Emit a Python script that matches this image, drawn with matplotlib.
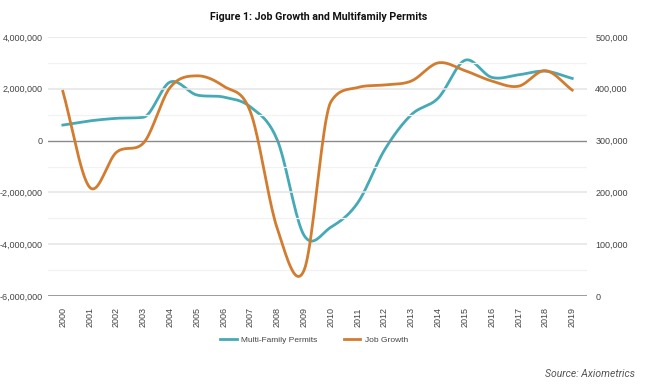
import matplotlib.pyplot as plt
import matplotlib.ticker as mticker
import numpy as np

years = list(range(2000, 2020))
job_growth = [1.9e6, -1.8e6, -0.45e6, -0.1e6, 2.05e6, 2.5e6, 2.1e6, 1.1e6, -3.4e6, -5.0e6,
              1.5e6, 2.05e6, 2.15e6, 2.3e6, 3.0e6, 2.7e6, 2.3e6, 2.1e6, 2.7e6, 1.95e6]
mf_permits = [330e3, 338e3, 343e3, 345e3, 413e3, 388e3, 384e3, 365e3, 301e3, 117e3,
              133e3, 180e3, 282e3, 350e3, 382e3, 455e3, 422e3, 427e3, 434e3, 420e3]

TEAL = '#45aab6'
ORANGE = '#d27c30'


def smooth(x, y, n=20):
    # cubic hermite curve through the yearly points, tangents limited between
    # points that keep going the same way (no bumps after steep climbs)
    x = np.asarray(x, float)
    y = np.asarray(y, float)
    d = np.diff(y) / np.diff(x)
    m = np.zeros_like(y)
    m[0], m[-1] = d[0], d[-1]
    for i in range(1, len(y) - 1):
        m[i] = (d[i - 1] + d[i]) / 2
        if d[i - 1] * d[i] > 0:
            lim = 3 * min(abs(d[i - 1]), abs(d[i]))
            m[i] = np.sign(m[i]) * min(abs(m[i]), lim)
    xs, ys = [], []
    t = np.linspace(0, 1, n, endpoint=False)
    for i in range(len(y) - 1):
        h = x[i + 1] - x[i]
        h00 = 2 * t**3 - 3 * t**2 + 1
        h10 = t**3 - 2 * t**2 + t
        h01 = -2 * t**3 + 3 * t**2
        h11 = t**3 - t**2
        ys.extend(h00 * y[i] + h10 * h * m[i] + h01 * y[i + 1] + h11 * h * m[i + 1])
        xs.extend(x[i] + t * h)
    xs.append(x[-1])
    ys.append(y[-1])
    return np.array(xs), np.array(ys)


plt.rcParams['font.family'] = ['Liberation Sans', 'DejaVu Sans']
fig = plt.figure(figsize=(6.5, 3.85), dpi=100)
ax = fig.add_axes([0.074, 0.231, 0.829, 0.673])
ax2 = ax.twinx()

idx = np.arange(len(years))
ax.set_xlim(-0.55, len(years) - 0.45)
ax.set_ylim(-6e6, 4e6)
ax2.set_ylim(0, 500e3)

for v in np.arange(-5e6, 4e6, 2e6):
    ax.axhline(v, color='#f2f2f2', lw=0.9, zorder=0)
for v in np.arange(-4e6, 4.1e6, 2e6):
    if v != 0:
        ax.axhline(v, color='#e4e4e4', lw=1.1, zorder=0)
ax.axhline(0, color='#8a8a8a', lw=1.0, zorder=1)
ax.axhline(-6e6, color='#8a8a8a', lw=1.2, zorder=1)

sx, sy = smooth(idx, mf_permits)
l1, = ax2.plot(sx, sy, color=TEAL, lw=2.0, label='Multi-Family Permits', zorder=3)
ox, oy = smooth(idx, job_growth)
l2, = ax.plot(ox, oy, color=ORANGE, lw=2.0, label='Job Growth', zorder=3)
ax.set_zorder(ax2.get_zorder() + 1)
ax.patch.set_visible(False)

ax.set_yticks(np.arange(-6e6, 4.1e6, 2e6))
ax.yaxis.set_major_formatter(mticker.FuncFormatter(lambda v, p: f'{v:,.0f}'))
ax2.set_yticks(np.arange(0, 500001, 100000))
ax2.yaxis.set_major_formatter(mticker.FuncFormatter(lambda v, p: f'{v:,.0f}'))
ax.set_xticks(idx)
ax.set_xticklabels([str(y) for y in years], rotation=90)

for a in (ax, ax2):
    for s in a.spines.values():
        s.set_visible(False)
    a.tick_params(length=0, labelsize=6.5, colors='#444444')
ax.tick_params(axis='y', pad=4)
ax2.tick_params(axis='y', pad=6)
ax.tick_params(axis='x', pad=8)

fig.text(0.49, 0.956, 'Figure 1: Job Growth and Multifamily Permits', ha='center', va='center',
         fontsize=7.7, fontweight='bold', color='#111111', family=['Roboto', 'DejaVu Sans'])
fig.legend(handles=[l1, l2], loc='center', bbox_to_anchor=(0.483, 0.117), ncol=2, frameon=False,
           fontsize=6, handlelength=2.0, handletextpad=0.5, columnspacing=3.2, labelcolor='#444444')
fig.text(0.977, 0.028, 'Source: Axiometrics', ha='right', va='center', fontsize=7.5,
         style='italic', color='#555555', family=['Roboto', 'DejaVu Sans'])

fig.savefig('out.png', dpi=100)
